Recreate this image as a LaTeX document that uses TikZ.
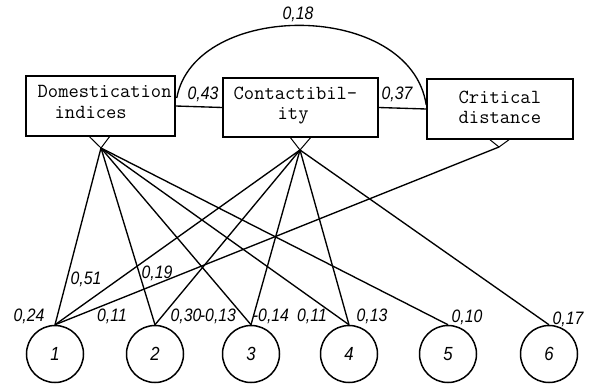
\documentclass[tikz,border=0pt]{standalone}
\usepackage{fontspec}
\newfontfamily\lblfont[FakeStretch=0.88]{Liberation Sans}
\usetikzlibrary{calc}
\begin{document}
\begin{tikzpicture}[x=1pt,y=-1pt,line width=1.35pt,
  box/.style={draw,inner sep=0pt,line width=1.5pt},
  boxtxt/.style={font=\ttfamily\fontsize{20}{22}\selectfont,inner sep=0pt,anchor=base west},
  lbl/.style={font=\lblfont\itshape\fontsize{18}{18}\selectfont,inner sep=0pt},
  var/.style={draw,circle,line width=1.5pt,minimum size=57pt,inner sep=0pt,font=\lblfont\itshape\fontsize{19}{19}\selectfont}]
\useasboundingbox (0,0) rectangle (589,383);
% boxes
\node[box,minimum width=149pt,minimum height=60pt] (dom) at (100.5,106) {};
\node[box,minimum width=155pt,minimum height=59pt] (cont) at (300.5,107.5) {};
\node[box,minimum width=146pt,minimum height=60pt] (crit) at (500,109) {};
\node[boxtxt] (dt1) at (37,97) {Domestication};
\node[boxtxt] (dt2) at (54,118) {indices};
\node[boxtxt] (ct1) at (233,99) {Contactibil-};
\node[boxtxt] (ct2) at (277,119) {ity};
\node[boxtxt] (kt1) at (458,103) {Critical};
\node[boxtxt] (kt2) at (458,123) {distance};
% links between boxes
\draw (dom.east) -- (cont.west);
\draw (cont.east) -- (crit.west);
\draw ($(dom.east)+(1,-8)$) .. controls (195,0) and (410,0) .. ($(crit.west)+(0,-4)$);
% fan points
\coordinate (dv) at (101,148);
\coordinate (cv) at (300,150);
\coordinate (kv) at (499,147);
\draw[line width=1pt] ($(dom.south)+(-11,0)$) -- (dv) -- ($(dom.south)+(9,0)$);
\draw[line width=1pt] ($(cont.south)+(-10,0)$) -- (cv) -- ($(cont.south)+(10,0)$);
\draw[line width=1pt] ($(crit.south)+(-10,0)$) -- (kv) -- ($(crit.south)+(9,0)$);
% variables
\node[var] (n1) at (55,354) {1};
\node[var] (n2) at (155,354) {2};
\node[var] (n3) at (251,354) {3};
\node[var] (n4) at (349,354) {4};
\node[var] (n5) at (448,354) {5};
\node[var] (n6) at (549,354) {6};
% connectors
\foreach \t in {n1,n2,n3,n4,n5} \draw (dv) -- (\t.north);
\foreach \t in {n1,n2,n3,n4,n6} \draw (cv) -- (\t.north);
\draw (kv) -- (n1.north);
% labels
\node[lbl] (l043) at (203,94) {0,43};
\node[lbl] (l037) at (397,94) {0,37};
\node[lbl] (l018) at (298,14) {0,18};
\node[lbl] (l024) at (29,316) {0,24};
\node[lbl] (l051) at (86,279) {0,51};
\node[lbl] (l019) at (157,273) {0,19};
\node[lbl] (l011a) at (112,316) {0,11};
\node[lbl] (l030) at (186,316) {0,30};
\node[lbl] (l013m) at (218,316) {-0,13};
\node[lbl] (l014m) at (271,316) {-0,14};
\node[lbl] (l011b) at (312,316) {0,11};
\node[lbl] (l013) at (372,316) {0,13};
\node[lbl] (l010) at (467,317) {0,10};
\node[lbl] (l017) at (568,319) {0,17};
\end{tikzpicture}
\end{document}
